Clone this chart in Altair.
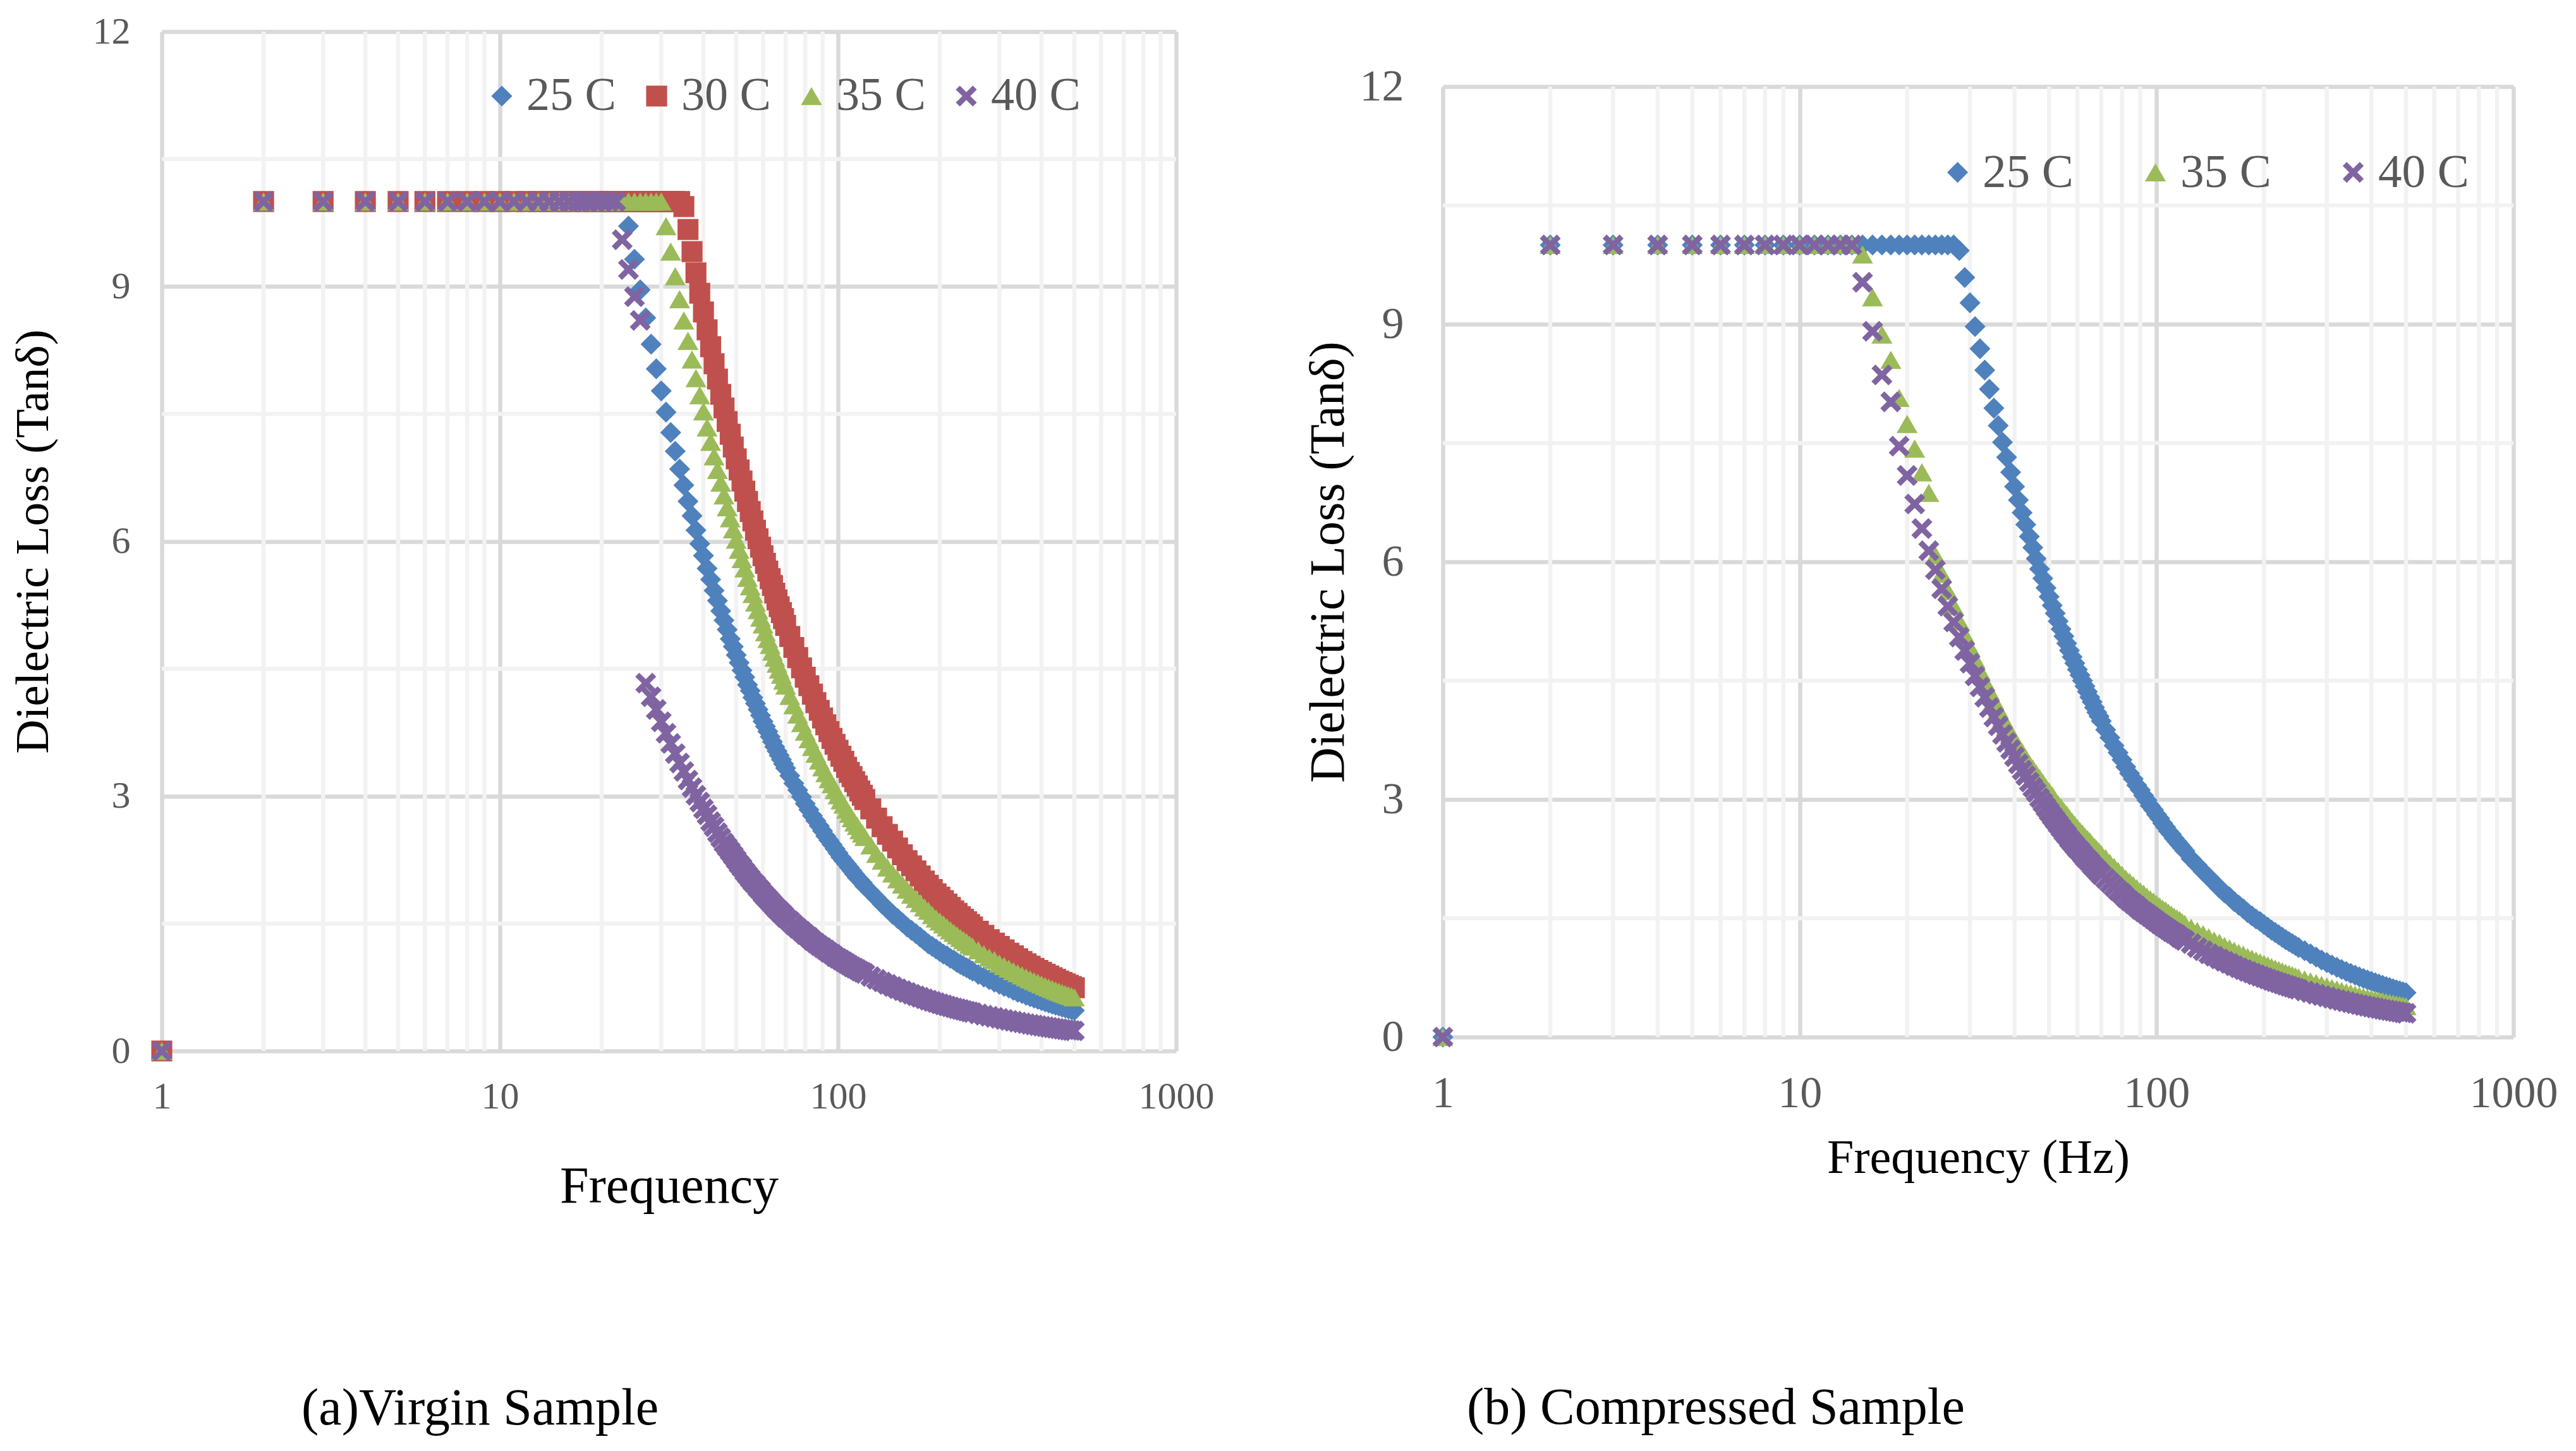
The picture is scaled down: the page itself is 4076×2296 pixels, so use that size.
import pandas as pd
import altair as alt

FONT = "Liberation Serif"
TICK_GREY = "#595959"
MAJOR_GRID = "#d9d9d9"
MINOR_GRID = "#f2f2f2"
MARKER = 1100

virgin_names = ["25 C", "30 C", "35 C", "40 C"]
virgin_colors = ["#4f81bd", "#c0504d", "#9bbb59", "#8064a2"]
compressed_names = ["25 C", "35 C", "40 C"]
compressed_colors = ["#4f81bd", "#9bbb59", "#8064a2"]
x_marker = ("M -1 -0.62 L -0.62 -1 L 0 -0.38 L 0.62 -1 L 1 -0.62 L 0.38 0 "
            "L 1 0.62 L 0.62 1 L 0 0.38 L -0.62 1 L -1 0.62 L -0.38 0 Z")
virgin_shapes = ["diamond", "square", "triangle-up", x_marker]
compressed_shapes = ["diamond", "triangle-up", x_marker]

# sampled frequencies (Hz): every integer through the knee, coarser on the tail
freq = (list(range(1, 71)) + list(range(72, 121, 2))
        + list(range(125, 251, 5)) + list(range(260, 501, 10)))

x_ticks = [1, 10, 100, 1000]
x_minor = [2, 3, 4, 5, 6, 7, 8, 9, 20, 30, 40, 50, 60, 70, 80, 90,
           200, 300, 400, 500, 600, 700, 800, 900]
y_ticks = [0, 3, 6, 9, 12]
y_minor = [1.5, 4.5, 7.5, 10.5]

# (a) virgin sample
virgin_25 = ([0] + [10] * 22 +
             [9.71, 9.32, 8.96, 8.63, 8.32, 8.03, 7.77, 7.52, 7.28, 7.06, 6.85, 6.66,
              6.47, 6.30, 6.13, 5.97, 5.83, 5.68, 5.55, 5.42, 5.30, 5.18, 5.07, 4.96,
              4.85, 4.76, 4.66, 4.57, 4.48, 4.40, 4.31, 4.24, 4.16, 4.09, 4.02, 3.95,
              3.88, 3.82, 3.76, 3.70, 3.64, 3.58, 3.53, 3.48, 3.43, 3.38, 3.33] +
             [3.24, 3.15, 3.07, 2.99, 2.91, 2.84, 2.77, 2.71, 2.65, 2.59, 2.53, 2.48,
              2.43, 2.38, 2.33, 2.28, 2.24, 2.20, 2.16, 2.12, 2.08, 2.04, 2.01, 1.98, 1.94] +
             [1.87, 1.80, 1.73, 1.67, 1.61, 1.56, 1.51, 1.46, 1.42, 1.38, 1.34, 1.30,
              1.26, 1.23, 1.20, 1.17, 1.14, 1.12, 1.09, 1.07, 1.04, 1.02, 1.00, 0.98,
              0.96, 0.94] +
             [0.90, 0.87, 0.84, 0.81, 0.785, 0.76, 0.74, 0.715, 0.69, 0.675, 0.656,
              0.639, 0.622, 0.607, 0.592, 0.578, 0.564, 0.551, 0.539, 0.528, 0.516,
              0.506, 0.495, 0.486, 0.476])
virgin_30 = ([0] + [10] * 33 +
             [9.94, 9.67, 9.41, 9.16, 8.92, 8.70, 8.49, 8.29, 8.09, 7.91, 7.73, 7.57,
              7.41, 7.26, 7.11, 6.97, 6.84, 6.71, 6.59, 6.47, 6.35, 6.24, 6.13, 6.03,
              5.93, 5.83, 5.74, 5.65, 5.56, 5.48, 5.39, 5.31, 5.23, 5.16, 5.09, 5.01] +
             [4.88, 4.75, 4.63, 4.51, 4.40, 4.30, 4.20, 4.10, 4.01, 3.92, 3.84, 3.76,
              3.68, 3.61, 3.54, 3.47, 3.41, 3.34, 3.28, 3.23, 3.17, 3.12, 3.06, 3.01, 2.96] +
             [2.85, 2.74, 2.64, 2.55, 2.47, 2.39, 2.31, 2.24, 2.18, 2.12, 2.06, 2.00,
              1.95, 1.90, 1.85, 1.81, 1.77, 1.73, 1.69, 1.65, 1.62, 1.58, 1.55, 1.52,
              1.49, 1.46] +
             [1.41, 1.36, 1.31, 1.27, 1.23, 1.19, 1.15, 1.12, 1.085, 1.054, 1.026,
              0.998, 0.973, 0.948, 0.925, 0.903, 0.882, 0.862, 0.843, 0.824, 0.807,
              0.790, 0.774, 0.759, 0.744])
virgin_35 = ([0] + [10] * 29 +
             [9.71, 9.41, 9.12, 8.85, 8.60, 8.36, 8.14, 7.92, 7.72, 7.53, 7.34, 7.17,
              7.00, 6.84, 6.69, 6.54, 6.40, 6.27, 6.14, 6.02, 5.90, 5.79, 5.68, 5.57,
              5.47, 5.38, 5.28, 5.19, 5.10, 5.02, 4.93, 4.85, 4.78, 4.70, 4.63, 4.56,
              4.49, 4.43, 4.36, 4.30] +
             [4.18, 4.07, 3.96, 3.86, 3.76, 3.67, 3.58, 3.50, 3.42, 3.34, 3.27, 3.20,
              3.14, 3.07, 3.01, 2.95, 2.90, 2.84, 2.79, 2.74, 2.69, 2.65, 2.60, 2.56, 2.52] +
             [2.42, 2.32, 2.24, 2.16, 2.09, 2.02, 1.96, 1.90, 1.84, 1.79, 1.74, 1.69,
              1.65, 1.60, 1.56, 1.525, 1.49, 1.455, 1.42, 1.39, 1.36, 1.33, 1.305, 1.28,
              1.25, 1.23] +
             [1.185, 1.14, 1.10, 1.07, 1.03, 1.00, 0.97, 0.94, 0.915, 0.89, 0.866,
              0.844, 0.822, 0.802, 0.783, 0.764, 0.747, 0.730, 0.714, 0.699, 0.684,
              0.670, 0.657, 0.644, 0.632])
virgin_40 = ([0] + [10] * 21 + [9.55, 9.20, 8.88, 8.60] +
             [4.33, 4.17, 4.02, 3.875, 3.74, 3.62, 3.50, 3.39, 3.29, 3.19, 3.10, 3.01,
              2.93, 2.85, 2.78, 2.70, 2.64, 2.57, 2.51, 2.45, 2.40, 2.35, 2.30, 2.25,
              2.20, 2.16, 2.11, 2.07, 2.03, 1.99, 1.96, 1.92, 1.89, 1.85, 1.82, 1.79,
              1.76, 1.73, 1.70, 1.67, 1.65, 1.62, 1.60, 1.57] +
             [1.53, 1.485, 1.445, 1.41, 1.37, 1.34, 1.30, 1.27, 1.24, 1.215, 1.19, 1.16,
              1.14, 1.11, 1.09, 1.07, 1.05, 1.03, 1.01, 0.99, 0.975, 0.96, 0.94, 0.927,
              0.912] +
             [0.876, 0.843, 0.813, 0.784, 0.758, 0.733, 0.710, 0.689, 0.668, 0.649,
              0.631, 0.614, 0.598, 0.583, 0.569, 0.555, 0.542, 0.530, 0.519, 0.508,
              0.498, 0.488, 0.478, 0.469, 0.460, 0.452] +
             [0.436, 0.421, 0.408, 0.395, 0.383, 0.371, 0.360, 0.350, 0.340, 0.331,
              0.322, 0.314, 0.306, 0.298, 0.291, 0.285, 0.278, 0.272, 0.266, 0.261,
              0.255, 0.250, 0.245, 0.241, 0.236])

# (b) compressed sample
compressed_25 = ([0] + [10] * 26 +
                 [9.93, 9.59, 9.27, 8.97, 8.69, 8.42, 8.18, 7.94, 7.72, 7.51, 7.32, 7.13,
                  6.95, 6.78, 6.62, 6.47, 6.32, 6.18, 6.04, 5.91, 5.79, 5.67, 5.56, 5.45,
                  5.35, 5.25, 5.15, 5.06, 4.97, 4.88, 4.80, 4.72, 4.64, 4.57, 4.50, 4.43,
                  4.36, 4.29, 4.23, 4.16, 4.10, 4.05, 3.99] +
                 [3.88, 3.78, 3.68, 3.59, 3.50, 3.41, 3.33, 3.26, 3.18, 3.12, 3.05, 2.99,
                  2.92, 2.87, 2.81, 2.76, 2.70, 2.65, 2.60, 2.56, 2.51, 2.47, 2.43, 2.39, 2.35] +
                 [2.25, 2.17, 2.09, 2.02, 1.95, 1.88, 1.82, 1.77, 1.71, 1.665, 1.62, 1.57,
                  1.53, 1.49, 1.46, 1.42, 1.385, 1.35, 1.32, 1.29, 1.26, 1.23, 1.205, 1.18,
                  1.155, 1.13] +
                 [1.09, 1.05, 1.01, 0.973, 0.94, 0.909, 0.881, 0.854, 0.828, 0.804, 0.782,
                  0.760, 0.740, 0.721, 0.703, 0.685, 0.669, 0.653, 0.638, 0.623, 0.610,
                  0.596, 0.584, 0.572, 0.56])
compressed_35 = ([0] + [10] * 13 + [9.88, 9.34, 8.87, 8.55, 8.07, 7.74, 7.43, 7.13, 6.87] +
                 [6.08, 5.85, 5.63, 5.44, 5.25, 5.08, 4.92, 4.77, 4.625, 4.49, 4.37, 4.25,
                  4.14, 4.03, 3.93, 3.84, 3.75, 3.67, 3.60, 3.52, 3.45, 3.39, 3.33, 3.27,
                  3.21, 3.15, 3.10, 3.05, 2.99, 2.94, 2.90, 2.85, 2.81, 2.76, 2.72, 2.68,
                  2.64, 2.60, 2.57, 2.53, 2.50, 2.47, 2.43, 2.40, 2.37, 2.34, 2.31] +
                 [2.26, 2.20, 2.15, 2.10, 2.05, 2.00, 1.96, 1.92, 1.88, 1.84, 1.81, 1.77,
                  1.74, 1.71, 1.68, 1.65, 1.62, 1.60, 1.57, 1.545, 1.52, 1.50, 1.48, 1.45, 1.43] +
                 [1.38, 1.34, 1.30, 1.26, 1.22, 1.19, 1.15, 1.12, 1.09, 1.06, 1.04, 1.01,
                  0.99, 0.966, 0.945, 0.925, 0.904, 0.884, 0.865, 0.847, 0.83, 0.813,
                  0.798, 0.783, 0.768, 0.754] +
                 [0.728, 0.703, 0.681, 0.660, 0.64, 0.620, 0.601, 0.583, 0.566, 0.551,
                  0.536, 0.522, 0.508, 0.496, 0.484, 0.472, 0.461, 0.451, 0.441, 0.432,
                  0.423, 0.414, 0.406, 0.398, 0.39])
compressed_40 = ([0] + [10] * 13 + [9.53, 8.91, 8.36, 8.02, 7.46, 7.09, 6.73, 6.42, 6.14] +
                 [5.90, 5.66, 5.44, 5.24, 5.05, 4.88, 4.72, 4.56, 4.42, 4.29, 4.16, 4.04,
                  3.93, 3.82, 3.72, 3.63, 3.54, 3.45, 3.37, 3.30, 3.22, 3.15, 3.09, 3.02,
                  2.96, 2.90, 2.845, 2.79, 2.74, 2.69, 2.64, 2.59, 2.55, 2.50, 2.46, 2.42,
                  2.38, 2.35, 2.31, 2.27, 2.24, 2.21, 2.17, 2.14, 2.11, 2.08, 2.05] +
                 [2.00, 1.95, 1.90, 1.85, 1.81, 1.76, 1.72, 1.685, 1.65, 1.61, 1.58, 1.55,
                  1.52, 1.49, 1.46, 1.43, 1.405, 1.38, 1.355, 1.33, 1.31, 1.29, 1.26, 1.24, 1.22] +
                 [1.18, 1.13, 1.09, 1.05, 1.02, 0.987, 0.956, 0.93, 0.90, 0.875, 0.851,
                  0.829, 0.808, 0.787, 0.768, 0.75, 0.732, 0.715, 0.699, 0.684, 0.669,
                  0.655, 0.641, 0.628, 0.616, 0.604] +
                 [0.582, 0.561, 0.541, 0.523, 0.507, 0.49, 0.474, 0.46, 0.446, 0.433,
                  0.421, 0.409, 0.398, 0.387, 0.378, 0.368, 0.359, 0.350, 0.342, 0.334,
                  0.327, 0.320, 0.313, 0.306, 0.30])


def long_table(names, columns):
    rows = []
    for name, vals in zip(names, columns):
        assert len(vals) == len(freq), (name, len(vals))
        for f, v in zip(freq, vals):
            rows.append({"freq": f, "loss": v, "series": name})
    return pd.DataFrame(rows)


def panel(df, names, colors, shapes, width, height, x_title, caption, s):
    x_scale = alt.Scale(type="log", domain=[1, 1000], nice=False)
    y_scale = alt.Scale(domain=[0, 12], nice=False)
    x_axis = alt.Axis(values=x_ticks, format="d", grid=True, gridColor=MAJOR_GRID,
                      gridWidth=6.5, domain=False, ticks=False, tickSize=0,
                      labelFlush=False, labelOverlap=False, labelFont=FONT,
                      labelFontSize=s["tick"], labelColor=TICK_GREY,
                      labelPadding=s["xpad"], titleFont=FONT,
                      titleFontSize=s["xtitle"], titleFontWeight="normal",
                      titleColor="#000000", titlePadding=s["xtpad"])
    y_axis = alt.Axis(values=y_ticks, grid=True, gridColor=MAJOR_GRID,
                      gridWidth=6.5, domain=False, ticks=False, tickSize=0,
                      labelFlush=False, labelOverlap=False, labelFont=FONT,
                      labelFontSize=s["tick"], labelColor=TICK_GREY,
                      labelPadding=s["ypad"], titleFont=FONT,
                      titleFontSize=s["ytitle"], titleFontWeight="normal",
                      titleColor="#000000", titlePadding=s["ytpad"])
    x_enc = alt.X("freq:Q", scale=x_scale, axis=x_axis, title=x_title)
    y_enc = alt.Y("loss:Q", scale=y_scale, axis=y_axis, title="Dielectric Loss (Tanδ)")

    minor_x = alt.Chart(pd.DataFrame({"freq": x_minor})).mark_rule(
        color=MINOR_GRID, strokeWidth=6.5).encode(x=x_enc)
    minor_y = alt.Chart(pd.DataFrame({"loss": y_minor})).mark_rule(
        color=MINOR_GRID, strokeWidth=6.5).encode(y=y_enc)

    legend = alt.Legend(title=None, orient="none", legendX=s["lx"], legendY=s["ly"],
                        direction="horizontal", columns=len(names), padding=0,
                        symbolSize=MARKER, symbolStrokeWidth=0, labelFont=FONT,
                        labelFontSize=s["lsize"], labelColor=TICK_GREY,
                        labelOffset=s["loff"], columnPadding=s["lcol"], labelLimit=400)
    points = alt.Chart(df).mark_point(filled=True, opacity=1, size=MARKER).encode(
        x=x_enc,
        y=y_enc,
        color=alt.Color("series:N", scale=alt.Scale(domain=names, range=colors), legend=legend),
        shape=alt.Shape("series:N", scale=alt.Scale(domain=names, range=shapes), legend=legend),
    )
    return alt.layer(minor_x, minor_y, points).properties(
        width=width, height=height,
        title=alt.TitleParams(caption, orient="bottom", anchor="start", frame="group",
                              baseline="top", dx=s["cdx"], offset=s["coff"], font=FONT,
                              fontSize=82, fontWeight="normal", color="#000000"),
    )


# panel (b) legend is placed relative to its column (spacer included)
left_style = dict(tick=60, xpad=43, ypad=50, xtitle=82, xtpad=72, ytitle=75, ytpad=55,
                  lx=501, ly=65, lsize=74, loff=2, lcol=27, cdx=221, coff=271)
right_style = dict(tick=70, xpad=55, ypad=62, xtitle=76, xtpad=30, ytitle=78, ytpad=10,
                   lx=777, ly=185, lsize=75, loff=2, lcol=92, cdx=38, coff=318)

virgin = panel(long_table(virgin_names, [virgin_25, virgin_30, virgin_35, virgin_40]),
               virgin_names, virgin_colors, virgin_shapes, 1605, 1613,
               "Frequency", "(a)Virgin Sample", left_style)
compressed = panel(long_table(compressed_names, [compressed_25, compressed_35, compressed_40]),
                   compressed_names, compressed_colors, compressed_shapes, 1694, 1504,
                   "Frequency (Hz)", "(b) Compressed Sample", right_style)

# empty strip that drops panel (b) lower, as in the figure
spacer = alt.Chart(pd.DataFrame({"a": [0]})).mark_point(opacity=0).encode(
    x=alt.value(0), y=alt.value(0)).properties(width=1, height=52)

chart = alt.hconcat(
    virgin,
    alt.vconcat(spacer, compressed, spacing=0),
    spacing=142,
).resolve_scale(
    color="independent", shape="independent"
).resolve_legend(
    color="independent", shape="independent"
).properties(
    padding={"left": 7, "top": 12, "right": 0, "bottom": 4},
    background="white",
).configure_view(strokeWidth=0)

chart.save("out.html", embed_options={"renderer": "svg", "actions": False})
